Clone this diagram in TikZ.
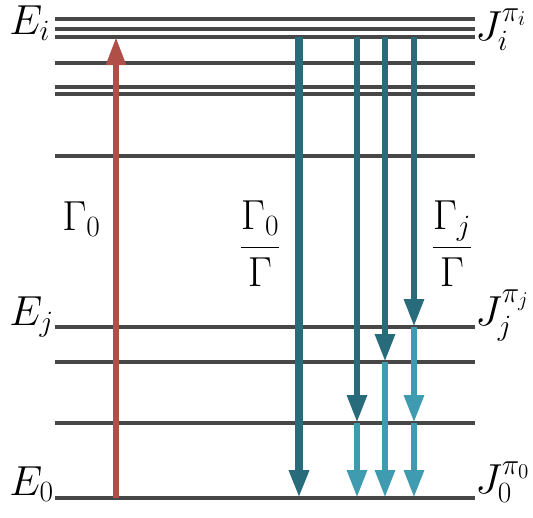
\RequirePackage{fix-cm}
\documentclass[tikz,border=0pt]{standalone}
\usepackage{amsmath}
\usetikzlibrary{arrows.meta,calc}
\definecolor{exred}{RGB}{176,78,72}
\definecolor{decdark}{RGB}{40,108,124}
\definecolor{declight}{RGB}{62,155,176}
\tikzset{
	level/.style={line width=2.4pt, draw=black!72},
	decay/.style={line width=5pt, -{Triangle[width=14pt,length=21pt]}},
	lbl/.style={inner sep=0pt, anchor=base west},
}
\begin{document}
\begin{tikzpicture}[x=0.75pt, y=-0.75pt, font=\fontsize{31.5}{38}\selectfont]
		\useasboundingbox (0,0) rectangle (533,518);
		% energy levels
		\foreach \y [count=\k] in {19,29,37,63,87,94,156,327,362,423,498}{
			\coordinate (l\k) at (55,\y);
			\coordinate (r\k) at (475,\y);
			\draw[level] (l\k) -- (r\k);
		}
		% arrow columns
		\foreach \c/\x in {cR/116, c1/299, c2/357, c3/385, c4/414}
		\coordinate (\c) at (\x,0);
		\draw[decay, exred, line width=4.5pt] (cR |- l11) -- (cR |- l3);
		\draw[decay, decdark, line width=6.4pt] (c1 |- l3) -- (c1 |- l11);
		\draw[decay, decdark] (c2 |- l3) -- (c2 |- l10);
		\draw[decay, declight] (c2 |- l10) -- (c2 |- l11);
		\draw[decay, decdark] (c3 |- l3) -- (c3 |- l9);
		\draw[decay, declight] (c3 |- l9) -- (c3 |- l11);
		\draw[decay, decdark] (c4 |- l3) -- (c4 |- l8);
		\draw[decay, declight] (c4 |- l8) -- (c4 |- l10);
		\draw[decay, declight] (c4 |- l10) -- (c4 |- l11);
		% labels
		\node[lbl] (Ei) at (9,34) {$E_i$};
		\node[lbl] (Ej) at (9,325) {$E_j$};
		\node[lbl] (E0) at (9,495) {$E_0$};
		\node[lbl] (G0) at (62,230) {$\Gamma_0$};
		\node[inner sep=0pt, anchor=base] (Br0) at (260,258) {$\dfrac{\Gamma_0}{\Gamma}$};
		\node[inner sep=0pt, anchor=base] (Brj) at (452,258) {$\dfrac{\Gamma_j}{\Gamma}$};
		\node[lbl] (Ji) at (475,40) {$J_i^{\pi_i}$};
		\node[lbl] (Jj) at (475,325) {$J_j^{\pi_j}$};
		\node[lbl] (J0) at (475,493) {$J_0^{\pi_0}$};
	\end{tikzpicture}
\end{document}
